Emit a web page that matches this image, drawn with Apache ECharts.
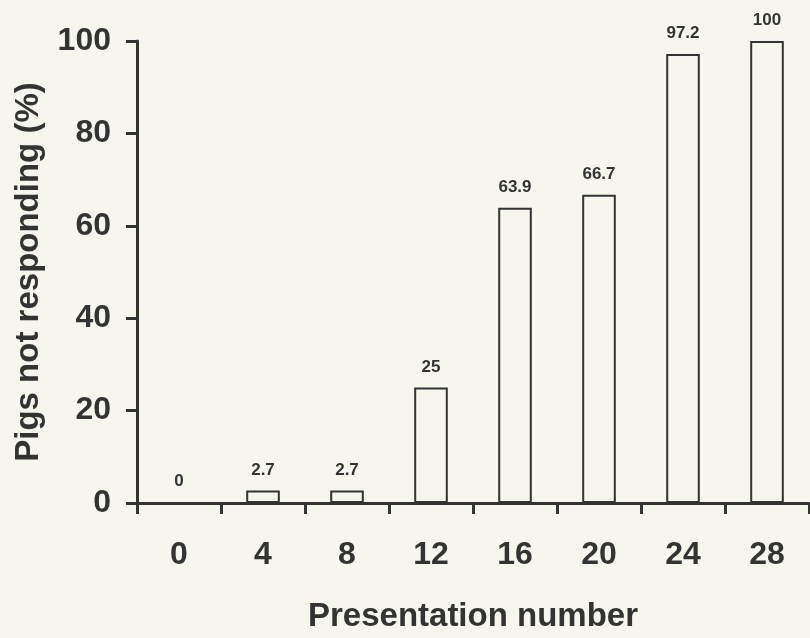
<!DOCTYPE html>
<html>
<head>
<meta charset="utf-8">
<script src="https://cdn.jsdelivr.net/npm/echarts@6/dist/echarts.min.js"></script>
<style>
html,body{margin:0;padding:0;background:#f6f6ee;}
#c{width:810px;height:638px;}
</style>
</head>
<body>
<div id="c"></div>
<script>
const categories = ['0','4','8','12','16','20','24','28'];
const values = [0, 2.7, 2.7, 25, 63.9, 66.7, 97.2, 100];
const valueLabels = ['0','2.7','2.7','25','63.9','66.7','97.2','100'];
const yTicks = [0, 20, 40, 60, 80, 100];

const ink = '#333333';
const font = 'Liberation Sans, Arial, Helvetica, sans-serif';
const chart = echarts.init(document.getElementById('c'));
chart.setOption({
  backgroundColor: '#f6f6ee',
  animation: false,
  grid: {left: 137, right: 1, top: 41, bottom: 128, containLabel: false},
  xAxis: {
    type: 'category',
    data: categories,
    boundaryGap: true,
    name: 'Presentation number',
    nameLocation: 'middle',
    nameGap: 97,
    nameTextStyle: {fontFamily: font, fontWeight: 'bold', fontSize: 33, color: ink},
    axisLine: {lineStyle: {color: ink, width: 3}},
    axisTick: {show: true, inside: false, length: 11, alignWithLabel: false, lineStyle: {color: ink, width: 3}},
    axisLabel: {fontFamily: font, fontWeight: 'bold', fontSize: 32, color: ink, margin: 36},
    splitLine: {show: false}
  },
  yAxis: {
    type: 'value',
    min: yTicks[0],
    max: yTicks[yTicks.length - 1],
    interval: 20,
    name: 'Pigs not responding (%)',
    nameLocation: 'middle',
    nameGap: 92,
    nameTextStyle: {fontFamily: font, fontWeight: 'bold', fontSize: 33, color: ink},
    axisLine: {show: true, lineStyle: {color: ink, width: 3}},
    axisTick: {show: true, inside: false, length: 11, lineStyle: {color: ink, width: 3}},
    axisLabel: {fontFamily: font, fontWeight: 'bold', fontSize: 32, color: ink, margin: 26},
    splitLine: {show: false}
  },
  series: [{
    type: 'bar',
    data: values,
    barWidth: '40%',
    itemStyle: {color: 'rgba(0,0,0,0)', borderColor: ink, borderWidth: 2},
    label: {
      show: true,
      position: 'top',
      distance: 12,
      fontFamily: font,
      fontWeight: 'bold',
      fontSize: 17,
      color: ink,
      formatter: p => valueLabels[p.dataIndex]
    }
  }]
});
</script>
</body>
</html>
